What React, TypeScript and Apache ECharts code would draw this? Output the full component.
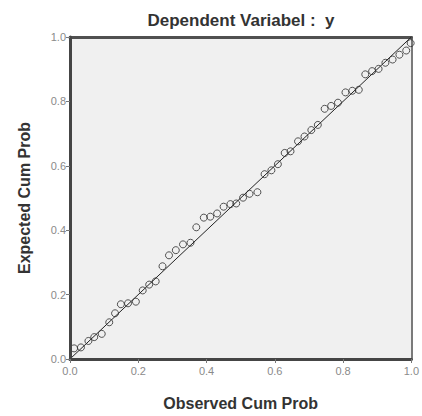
import React, { useEffect, useRef } from "react";
import * as echarts from "echarts";

const titleText = "Dependent Variabel :  y";
const xAxisName = "Observed Cum Prob";
const yAxisName = "Expected Cum Prob";

const observed = [
  0.012, 0.032, 0.054, 0.071, 0.093, 0.115, 0.132, 0.149, 0.17, 0.193,
  0.213, 0.232, 0.251, 0.271, 0.29, 0.31, 0.331, 0.353, 0.37, 0.392,
  0.411, 0.431, 0.45, 0.47, 0.487, 0.507, 0.526, 0.549, 0.57, 0.59,
  0.609, 0.629, 0.646, 0.668, 0.687, 0.707, 0.726, 0.746, 0.765, 0.785,
  0.807, 0.827, 0.846, 0.865, 0.885, 0.904, 0.924, 0.945, 0.965, 0.985,
  0.998,
];
const expected = [
  0.033, 0.036, 0.056, 0.068, 0.078, 0.114, 0.142, 0.17, 0.173, 0.178,
  0.213, 0.231, 0.241, 0.288, 0.322, 0.338, 0.356, 0.361, 0.409, 0.439,
  0.442, 0.452, 0.473, 0.481, 0.483, 0.501, 0.513, 0.518, 0.574, 0.586,
  0.605, 0.64, 0.645, 0.676, 0.691, 0.711, 0.727, 0.777, 0.786, 0.796,
  0.828, 0.833, 0.836, 0.884, 0.894, 0.901, 0.92, 0.93, 0.945, 0.958,
  0.981,
];
const referenceLine = [
  [0, 0],
  [1, 1],
];

const FONT = "'Liberation Sans', Arial, sans-serif";

export default function App() {
  const ref = useRef<HTMLDivElement>(null);
  useEffect(() => {
    if (!ref.current) return;
    const chart = echarts.init(ref.current, null, { renderer: "svg" });
    const points = observed.map((x, i) => [x, expected[i]]);
    const baseAxis = {
      type: "value" as const,
      min: 0,
      max: 1,
      interval: 0.2,
      splitLine: { show: false },
    };
    chart.setOption({
      animation: false,
      backgroundColor: "#ffffff",
      title: {
        text: titleText,
        left: 236,
        top: 7,
        textAlign: "center",
        textStyle: {
          fontFamily: FONT,
          fontSize: 17,
          fontWeight: "bold",
          color: "#333333",
        },
      },
      grid: {
        left: 70,
        right: 10,
        top: 37,
        bottom: 51,
        show: true,
        backgroundColor: "#f0f0f0",
        borderWidth: 0,
      },
      xAxis: [
        {
          ...baseAxis,
          position: "bottom",
          name: xAxisName,
          nameLocation: "middle",
          nameGap: 36,
          nameTextStyle: {
            fontFamily: FONT,
            fontSize: 16,
            fontWeight: "bold",
            color: "#333333",
          },
          axisLine: { show: true, onZero: false, lineStyle: { color: "#454545", width: 3 } },
          axisTick: { show: true, length: 4, inside: false, lineStyle: { color: "#777", width: 1 } },
          axisLabel: {
            fontFamily: FONT,
            fontSize: 11,
            color: "#8a8a8a",
            margin: 6,
            formatter: (v: number) => v.toFixed(1),
          },
          z: 5,
        },
        {
          ...baseAxis,
          position: "top",
          axisLine: { show: true, onZero: false, lineStyle: { color: "#505050", width: 3 } },
          axisTick: { show: false },
          axisLabel: { show: false },
        },
      ],
      yAxis: [
        {
          ...baseAxis,
          position: "left",
          name: yAxisName,
          nameLocation: "middle",
          nameGap: 38,
          nameTextStyle: {
            fontFamily: FONT,
            fontSize: 16,
            fontWeight: "bold",
            color: "#333333",
          },
          axisLine: { show: true, onZero: false, lineStyle: { color: "#454545", width: 3 } },
          axisTick: { show: true, length: 4, lineStyle: { color: "#777", width: 1 } },
          axisLabel: {
            fontFamily: FONT,
            fontSize: 11,
            color: "#8a8a8a",
            margin: 4,
            formatter: (v: number) => v.toFixed(1),
          },
          z: 5,
        },
        {
          ...baseAxis,
          position: "right",
          axisLine: { show: true, onZero: false, lineStyle: { color: "#7a7a7a", width: 2 } },
          axisTick: { show: false },
          axisLabel: { show: false },
        },
      ],
      series: [
        {
          type: "line",
          data: referenceLine,
          showSymbol: false,
          symbol: "none",
          lineStyle: { color: "#222", width: 1 },
          silent: true,
          z: 2,
        },
        {
          type: "scatter",
          data: points,
          symbol: "circle",
          symbolSize: 7,
          itemStyle: {
            color: "rgba(0,0,0,0)",
            borderColor: "#2a2a2a",
            borderWidth: 1,
          },
          z: 3,
        },
      ],
    });
    return () => chart.dispose();
  }, []);
  return (
    <div
      ref={ref}
      style={{ position: "fixed", left: 0, top: 0, width: 422, height: 416 }}
    />
  );
}
